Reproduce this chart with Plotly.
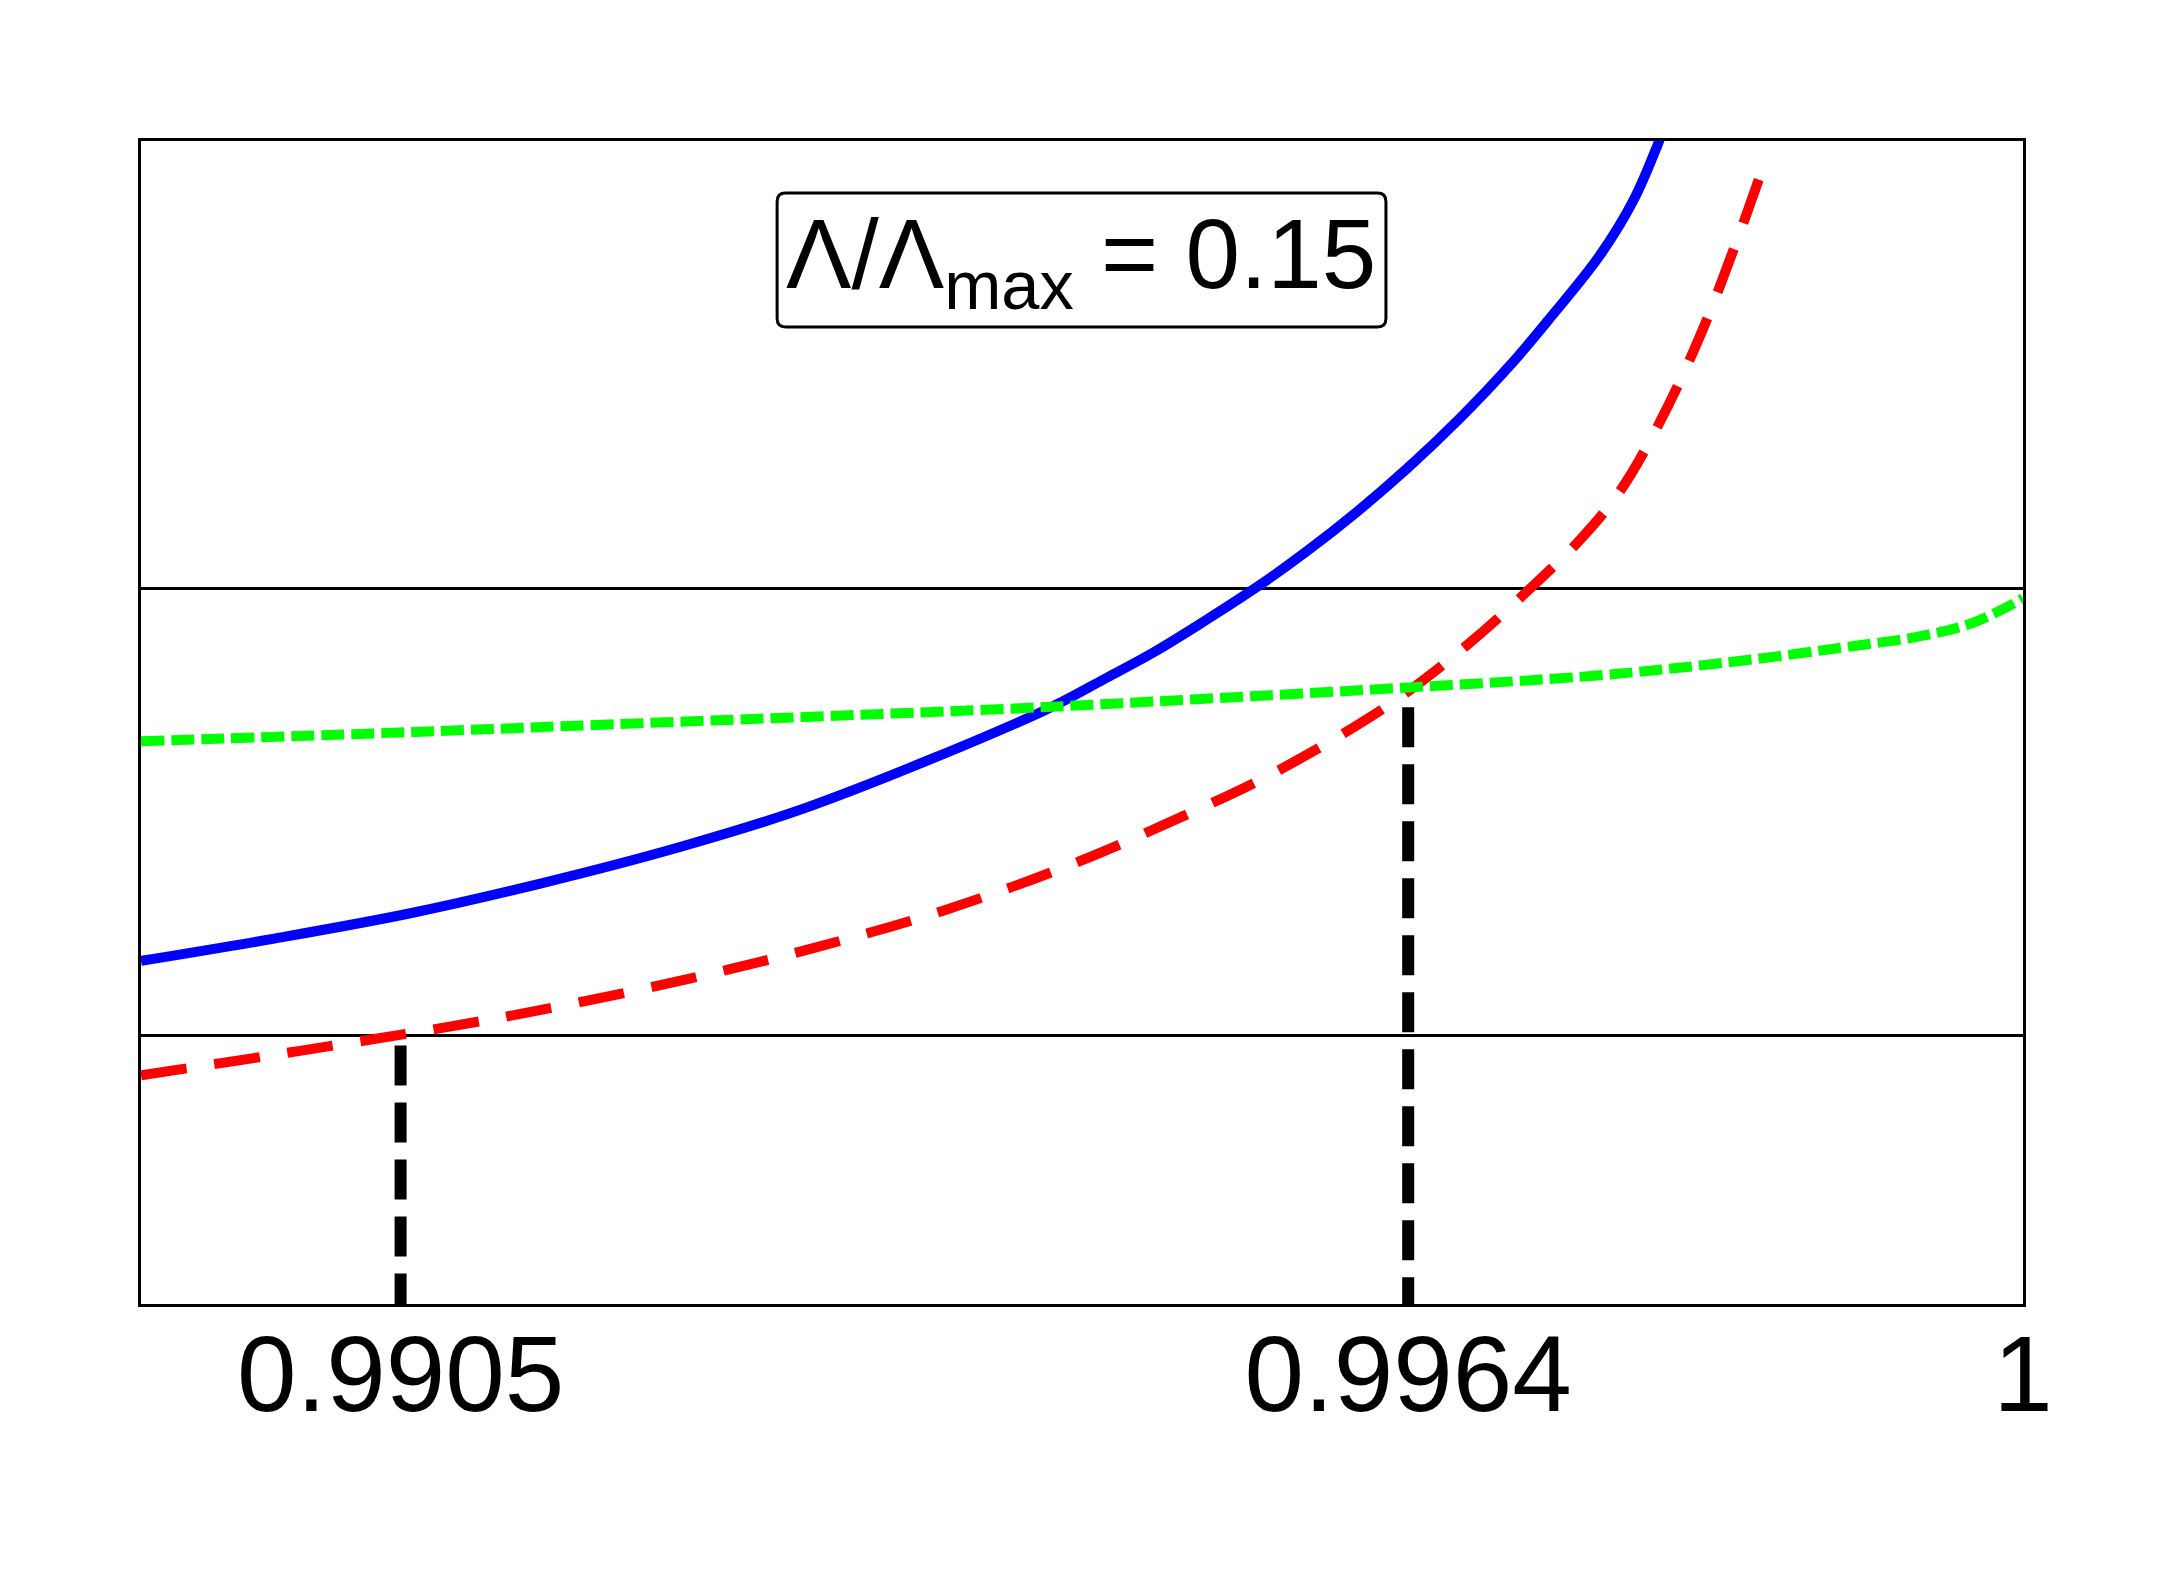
import plotly.graph_objects as go

# ---- data ----
blue_x = [0.98898, 0.98976, 0.99055, 0.99133, 0.99212, 0.99290,
          0.99427, 0.99462, 0.99491, 0.99520, 0.99553, 0.99580, 0.99610, 0.99640,
          0.99670, 0.99700, 0.99723, 0.99752, 0.99772, 0.99786, 0.99791]
blue_y = [1.167, 1.217, 1.273, 1.341, 1.420, 1.513,
          1.727, 1.797, 1.857, 1.925, 2.007, 2.081, 2.171, 2.270,
          2.379, 2.500, 2.604, 2.743, 2.868, 2.991, 3.042]

red_x = [0.98898, 0.98991, 0.99077, 0.99133, 0.99212, 0.99290, 0.99369, 0.99447,
         0.99513, 0.99553, 0.99594, 0.99635, 0.99676, 0.99711, 0.99741, 0.99764,
         0.99787, 0.99811, 0.99834, 0.99849]
red_y = [0.911, 0.966, 1.019, 1.058, 1.121, 1.194, 1.281, 1.389,
         1.499, 1.571, 1.657, 1.756, 1.878, 1.998, 2.110, 2.217,
         2.369, 2.565, 2.793, 2.955]

green_x = [0.98898, 0.99059, 0.99161, 0.99413, 0.99516, 0.99643, 0.99747,
           0.99824, 0.99901, 0.99940, 0.99970, 0.99997, 1.0]
green_y = [1.658, 1.679, 1.694, 1.732, 1.752, 1.779, 1.804,
           1.833, 1.871, 1.893, 1.922, 1.971, 1.978]

marker_x = [0.9905, 0.9964]
marker_top = [0.978, 1.734]

x_min, x_max = 0.98898, 1.0000001
y_min, y_max = 0.4, 3.0

tick_vals = [0.9905, 0.9964, 1.0]
tick_text = ["0.9905", "0.9964", "1"]
grid_vals = [1, 2]

label_text = "Λ/Λ<sub>max</sub> = 0.15"

FONT = "Liberation Sans, Arial, sans-serif"

fig = go.Figure()

for mx, mt in zip(marker_x, marker_top):
    fig.add_trace(go.Scatter(x=[mx, mx], y=[mt, y_min], mode="lines",
                             line=dict(color="black", width=12, dash="40px,17px"),
                             hoverinfo="skip"))

fig.add_trace(go.Scatter(x=blue_x, y=blue_y, mode="lines",
                         line=dict(color="#0000FF", width=10, shape="spline",
                                   smoothing=1.0, simplify=False)))
fig.add_trace(go.Scatter(x=red_x, y=red_y, mode="lines",
                         line=dict(color="#FF0000", width=10, dash="46px,28px",
                                   shape="spline", smoothing=1.0, simplify=False)))
fig.add_trace(go.Scatter(x=green_x, y=green_y, mode="lines",
                         line=dict(color="#00FF00", width=10, dash="23px,7px",
                                   shape="spline", smoothing=1.0, simplify=False)))

# rounded label box
x0, x1, y0, y1 = 0.338, 0.6615, 0.8401, 0.9553
rx, ry = 0.0045, 0.0073
path = (f"M {x0+rx},{y0} L {x1-rx},{y0} Q {x1},{y0} {x1},{y0+ry} "
        f"L {x1},{y1-ry} Q {x1},{y1} {x1-rx},{y1} L {x0+rx},{y1} "
        f"Q {x0},{y1} {x0},{y1-ry} L {x0},{y0+ry} Q {x0},{y0} {x0+rx},{y0} Z")
fig.add_shape(type="path", path=path, xref="paper", yref="paper",
              line=dict(color="black", width=3), fillcolor="white", layer="above")

fig.add_annotation(x=0.4995, y=0.8960, xref="paper", yref="paper",
                   text=label_text, showarrow=False,
                   xanchor="center", yanchor="middle",
                   font=dict(family=FONT, size=98, color="black"))

fig.update_layout(
    width=2167, height=1580,
    margin=dict(l=141, r=144, t=141, b=276),
    paper_bgcolor="white", plot_bgcolor="white",
    showlegend=False,
    font=dict(family=FONT, color="black"),
)
fig.update_xaxes(range=[x_min, x_max], tickvals=tick_vals, ticktext=tick_text,
                 tickfont=dict(family=FONT, size=107, color="black"),
                 ticklabelstandoff=-24,
                 showgrid=False, zeroline=False, ticks="",
                 showline=True, linecolor="black", linewidth=3, mirror=True)
fig.update_yaxes(range=[y_min, y_max], tickvals=grid_vals, showticklabels=False,
                 showgrid=True, gridcolor="black", gridwidth=2.5, zeroline=False, ticks="",
                 showline=True, linecolor="black", linewidth=3, mirror=True)

fig.write_html("out.html")
